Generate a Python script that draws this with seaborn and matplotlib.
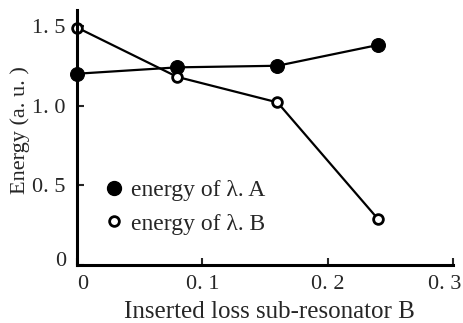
import matplotlib
matplotlib.use("Agg")
import matplotlib.pyplot as plt
import matplotlib.transforms as mtransforms
import seaborn as sns
from matplotlib.lines import Line2D
from matplotlib.ticker import FixedLocator

# data
loss = [0.0, 0.08, 0.16, 0.24]
energy_a = [1.20, 1.24, 1.25, 1.38]
energy_b = [1.49, 1.18, 1.02, 0.29]

x_ticks = [0.0, 0.1, 0.2, 0.3]
x_tick_labels = ["0", "0. 1", "0. 2", "0. 3"]
y_ticks = [0.0, 0.5, 1.0, 1.5]
y_tick_labels = ["0", "0. 5", "1. 0", "1. 5"]
legend_labels = ["energy of \u03bb. A", "energy of \u03bb. B"]

sns.set_style("ticks")
plt.rcParams["font.family"] = ["Liberation Serif", "DejaVu Serif"]

fig = plt.figure(figsize=(4.64, 3.23), dpi=100)
ax = fig.add_axes([0.166, 0.180, 0.810, 0.789])

sns.lineplot(x=loss, y=energy_a, ax=ax, color="black", linewidth=1.6,
             marker="o", markersize=10, markerfacecolor="black",
             markeredgecolor="black")
sns.lineplot(x=loss, y=energy_b, ax=ax, color="black", linewidth=1.6,
             marker="o", markersize=7, markerfacecolor="white",
             markeredgecolor="black", markeredgewidth=2)

ax.set_xlim(0, 0.3)
ax.set_ylim(0, 1.6)
ax.xaxis.set_major_locator(FixedLocator(x_ticks))
ax.yaxis.set_major_locator(FixedLocator(y_ticks))
ax.set_xticklabels(x_tick_labels)
ax.set_yticklabels(y_tick_labels)
ax.tick_params(direction="in", length=5, width=1.5, labelsize=16)
ax.tick_params(axis="x", pad=7)
ax.tick_params(axis="y", pad=8)

# nudge a few tick labels as in the printed figure
def nudge(label, dx, dy):
    off = mtransforms.ScaledTranslation(dx / 100, dy / 100, fig.dpi_scale_trans)
    label.set_transform(label.get_transform() + off)

xlabels = ax.get_xticklabels()
ylabels = ax.get_yticklabels()
nudge(xlabels[0], 6, 0)
nudge(xlabels[3], -8, 0)
nudge(ylabels[0], 0, 6)

ax.set_xlabel("Inserted loss sub-resonator B", fontsize=18)
ax.set_ylabel("Energy (a. u. )", fontsize=16)
ax.xaxis.set_label_coords(0.513, -0.14)
ax.yaxis.set_label_coords(-0.125, 0.53)

for side in ["top", "right"]:
    ax.spines[side].set_visible(False)
for side in ["left", "bottom"]:
    ax.spines[side].set_linewidth(2.2)
    ax.spines[side].set_color("black")

handles = [
    Line2D([], [], linestyle="none", marker="o", markersize=10,
           markerfacecolor="black", markeredgecolor="black"),
    Line2D([], [], linestyle="none", marker="o", markersize=7,
           markerfacecolor="white", markeredgecolor="black", markeredgewidth=2),
]
ax.legend(handles, legend_labels, loc="upper left", bbox_to_anchor=(0.047, 0.38),
          frameon=False, fontsize=17, borderpad=0, handlelength=0.6,
          handletextpad=0.45, labelspacing=0.5)

for line in ax.lines:
    line.set_clip_on(False)

fig.savefig("out.png", dpi=100)
